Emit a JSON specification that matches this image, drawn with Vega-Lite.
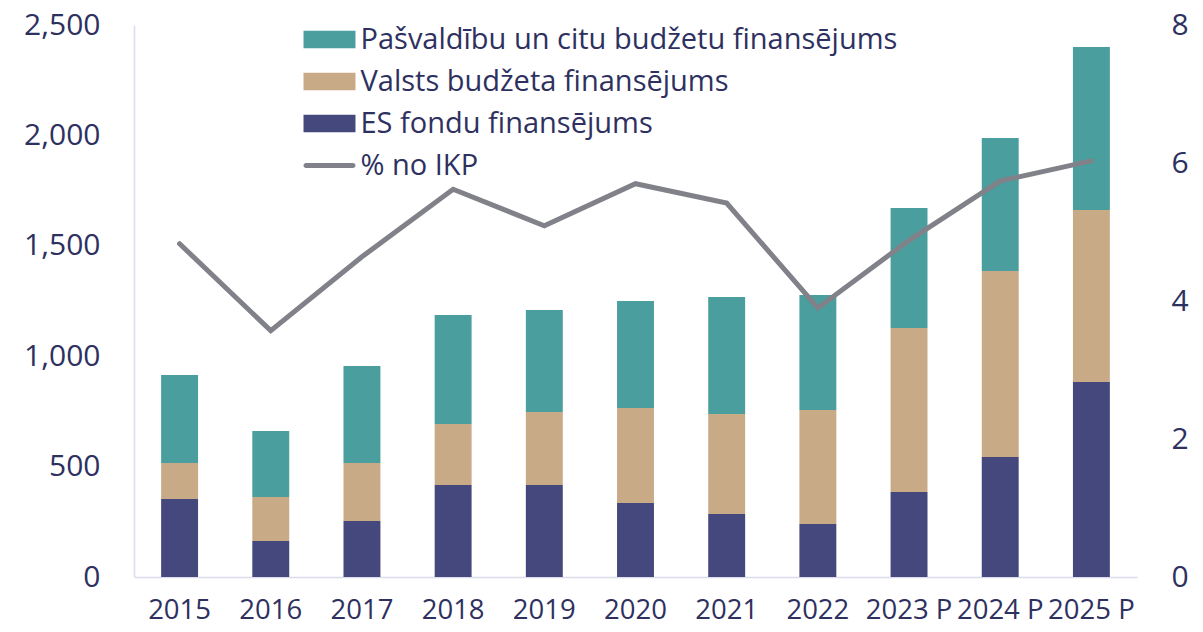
{
  "$schema": "https://vega.github.io/schema/vega-lite/v6.json",
  "autosize": {"type": "none"},
  "width": 1003,
  "height": 552,
  "padding": {"left": 134, "top": 25, "right": 66, "bottom": 55},
  "background": "white",
  "config": {
    "font": "Open Sans",
    "view": {"stroke": null},
    "axis": {"labelColor": "#2e3160", "labelFont": "Open Sans", "grid": false, "ticks": false, "tickSize": 0, "title": null, "domainColor": "#dcdcea", "domainWidth": 1.5}
  },
  "datasets": {
    "bars": [
      {"year": "2015", "series": "ES fondu finansējums", "value": 353},
      {"year": "2015", "series": "Valsts budžeta finansējums", "value": 163},
      {"year": "2015", "series": "Pašvaldību un citu budžetu finansējums", "value": 399},
      {"year": "2016", "series": "ES fondu finansējums", "value": 163},
      {"year": "2016", "series": "Valsts budžeta finansējums", "value": 199},
      {"year": "2016", "series": "Pašvaldību un citu budžetu finansējums", "value": 299},
      {"year": "2017", "series": "ES fondu finansējums", "value": 254},
      {"year": "2017", "series": "Valsts budžeta finansējums", "value": 262},
      {"year": "2017", "series": "Pašvaldību un citu budžetu finansējums", "value": 440},
      {"year": "2018", "series": "ES fondu finansējums", "value": 417},
      {"year": "2018", "series": "Valsts budžeta finansējums", "value": 276},
      {"year": "2018", "series": "Pašvaldību un citu budžetu finansējums", "value": 494},
      {"year": "2019", "series": "ES fondu finansējums", "value": 417},
      {"year": "2019", "series": "Valsts budžeta finansējums", "value": 330},
      {"year": "2019", "series": "Pašvaldību un citu budžetu finansējums", "value": 462},
      {"year": "2020", "series": "ES fondu finansējums", "value": 335},
      {"year": "2020", "series": "Valsts budžeta finansējums", "value": 430},
      {"year": "2020", "series": "Pašvaldību un citu budžetu finansējums", "value": 485},
      {"year": "2021", "series": "ES fondu finansējums", "value": 285},
      {"year": "2021", "series": "Valsts budžeta finansējums", "value": 453},
      {"year": "2021", "series": "Pašvaldību un citu budžetu finansējums", "value": 530},
      {"year": "2022", "series": "ES fondu finansējums", "value": 240},
      {"year": "2022", "series": "Valsts budžeta finansējums", "value": 516},
      {"year": "2022", "series": "Pašvaldību un citu budžetu finansējums", "value": 521},
      {"year": "2023 P", "series": "ES fondu finansējums", "value": 385},
      {"year": "2023 P", "series": "Valsts budžeta finansējums", "value": 743},
      {"year": "2023 P", "series": "Pašvaldību un citu budžetu finansējums", "value": 543},
      {"year": "2024 P", "series": "ES fondu finansējums", "value": 543},
      {"year": "2024 P", "series": "Valsts budžeta finansējums", "value": 843},
      {"year": "2024 P", "series": "Pašvaldību un citu budžetu finansējums", "value": 602},
      {"year": "2025 P", "series": "ES fondu finansējums", "value": 883},
      {"year": "2025 P", "series": "Valsts budžeta finansējums", "value": 779},
      {"year": "2025 P", "series": "Pašvaldību un citu budžetu finansējums", "value": 738}
    ],
    "line": [
      {"year": "2015", "pct": 4.83},
      {"year": "2016", "pct": 3.57},
      {"year": "2017", "pct": 4.64},
      {"year": "2018", "pct": 5.62},
      {"year": "2019", "pct": 5.09},
      {"year": "2020", "pct": 5.70},
      {"year": "2021", "pct": 5.42},
      {"year": "2022", "pct": 3.90},
      {"year": "2023 P", "pct": 4.88},
      {"year": "2024 P", "pct": 5.74},
      {"year": "2025 P", "pct": 6.03}
    ]
  },
  "encoding": {
    "x": {
      "field": "year", "type": "nominal", "sort": ["2015","2016","2017","2018","2019","2020","2021","2022","2023 P","2024 P","2025 P"],
      "scale": {"paddingInner": 0.595, "paddingOuter": 0.2975},
      "axis": {"labelAngle": 0, "labelFontSize": 27.5, "labelPadding": 19, "domain": true}
    }
  },
  "layer": [
    {
      "data": {"name": "bars"},
      "transform": [
        {"calculate": "indexof(['ES fondu finansējums','Valsts budžeta finansējums','Pašvaldību un citu budžetu finansējums'], datum.series)", "as": "stackrank"}
      ],
      "mark": {"type": "bar"},
      "encoding": {
        "y": {
          "field": "value", "type": "quantitative", "stack": "zero",
          "scale": {"domain": [0, 2500], "nice": false},
          "axis": {"values": [0, 500, 1000, 1500, 2000, 2500], "format": ",d", "labelFontSize": 30, "labelPadding": 34, "domain": true}
        },
        "order": {"field": "stackrank", "type": "quantitative"},
        "color": {
          "field": "series", "type": "nominal",
          "scale": {
            "domain": ["Pašvaldību un citu budžetu finansējums", "Valsts budžeta finansējums", "ES fondu finansējums", "% no IKP"],
            "range": ["#4a9e9e", "#c9aa87", "#45487d", "#818189"]
          },
          "legend": {
            "title": null,
            "orient": "none",
            "legendX": 181,
            "legendY": 0,
            "labelFontSize": 29,
            "labelColor": "#2e3160",
            "labelFont": "Open Sans",
            "labelOffset": 16.5,
            "rowPadding": 12,
            "symbolSize": 300,
            "symbolType": "M-3,-1H3V1H-3Z",
            "labelLimit": 800,
            "encode": {
              "symbols": {
                "update": {
                  "shape": {"signal": "datum.value === '% no IKP' ? 'M-2.71,-0.29H2.71A0.29,0.29 0 0 1 2.71,0.29H-2.71A0.29,0.29 0 0 1 -2.71,-0.29Z' : 'M-3,-1H3V1H-3Z'"},
                  "fill": {"signal": "scale('color', datum.value)"},
                  "fillOpacity": {"value": 1},
                  "stroke": {"value": "transparent"},
                  "strokeWidth": {"value": 0}
                }
              }
            }
          }
        }
      }
    },
    {
      "data": {"name": "line"},
      "mark": {"type": "line", "strokeWidth": 5, "strokeCap": "round", "strokeJoin": "miter"},
      "encoding": {
        "y": {
          "field": "pct", "type": "quantitative",
          "scale": {"domain": [0, 8], "nice": false},
          "axis": {"orient": "right", "values": [0, 2, 4, 6, 8], "labelFontSize": 30, "labelPadding": 34, "domain": false}
        },
        "color": {"datum": "% no IKP"}
      }
    }
  ],
  "resolve": {"scale": {"y": "independent"}}
}
